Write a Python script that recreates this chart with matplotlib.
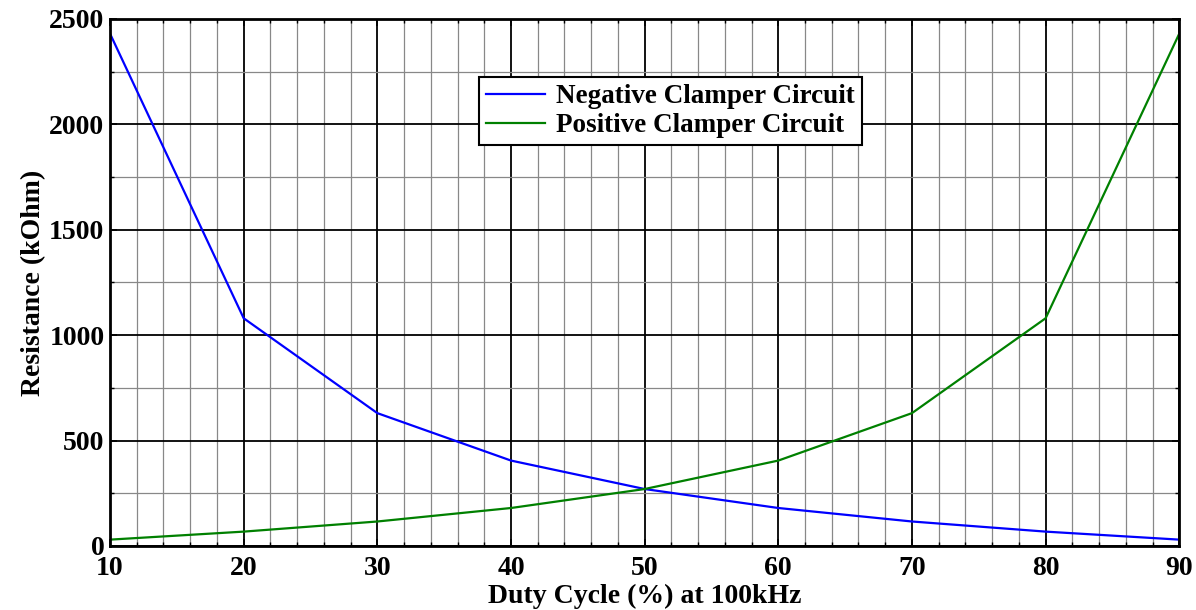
import numpy as np
import matplotlib.pyplot as plt
from matplotlib.ticker import MultipleLocator

# duty cycle (%) and resistance (kOhm)
duty = [10, 20, 30, 40, 50, 60, 70, 80, 90]
neg_clamper = [2430, 1080, 630, 405, 270, 180, 116, 68, 30]
pos_clamper = [30, 68, 116, 180, 270, 405, 630, 1080, 2430]

plt.rcParams['font.family'] = ['Liberation Serif', 'DejaVu Serif']
plt.rcParams['font.weight'] = 'bold'

fig = plt.figure(figsize=(11.96, 6.10), dpi=100)
ax = fig.add_axes([0.092, 0.105, 0.894, 0.864])

ax.plot(duty, neg_clamper, color='#0000ff', lw=1.6, label='Negative Clamper Circuit')
ax.plot(duty, pos_clamper, color='#008000', lw=1.6, label='Positive Clamper Circuit')

ax.set_xlim(10, 90)
ax.set_ylim(0, 2500)
ax.xaxis.set_major_locator(MultipleLocator(10))
ax.xaxis.set_minor_locator(MultipleLocator(2))
ax.yaxis.set_major_locator(MultipleLocator(500))
ax.yaxis.set_minor_locator(MultipleLocator(250))

ax.grid(which='major', color='black', lw=1.3)
ax.grid(which='minor', color='#888888', lw=0.9)
ax.set_axisbelow(True)

ax.tick_params(which='both', direction='in', top=True, right=True)
ax.tick_params(which='major', length=5, width=1.2, labelsize=20)
ax.tick_params(axis='x', which='major', pad=7)
ax.tick_params(axis='y', which='major', pad=4)
ax.tick_params(which='minor', length=3, width=1.0)
for lab in ax.get_xticklabels() + ax.get_yticklabels():
    lab.set_fontweight('bold')
for s in ax.spines.values():
    s.set_linewidth(2)

ax.set_xlabel('Duty Cycle (%) at 100kHz', fontsize=20, fontweight='bold', labelpad=2)
ax.set_ylabel('Resistance (kOhm)', fontsize=20, fontweight='bold', labelpad=2)

leg = ax.legend(loc='center', bbox_to_anchor=(0.524, 0.825), fontsize=19.5,
                fancybox=False, framealpha=1, edgecolor='black',
                handlelength=2.2, borderpad=0.25, labelspacing=0.15, handletextpad=0.4)
leg.get_frame().set_linewidth(1.5)
for t in leg.get_texts():
    t.set_fontweight('bold')

fig.savefig('out.png', dpi=100)
